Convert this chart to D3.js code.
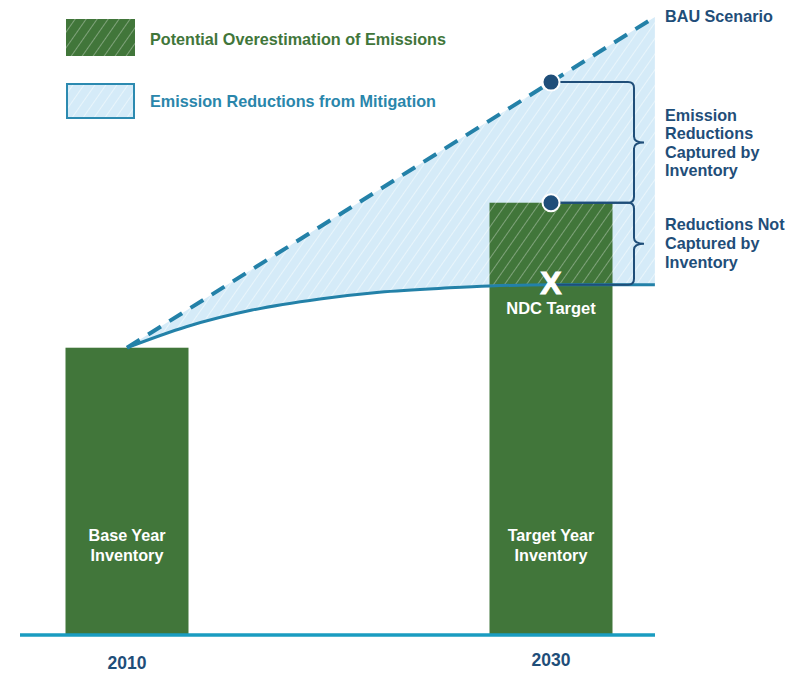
<!DOCTYPE html>
<html><head><meta charset="utf-8">
<script src="https://cdn.jsdelivr.net/npm/d3@7"></script>
<style>
html,body{margin:0;padding:0;background:#fff;}
text{font-family:"Liberation Sans",Arial,sans-serif;font-weight:bold;}
</style></head>
<body>
<svg id="chart" width="802" height="673"></svg>
<script>
// ---- data ----
const categories = ["2010", "2030"];
const categoryYears = [2010, 2030];
const inventoryValues = [46.4, 69.9];          // bar tops (base year, target year inventory)
const ndcTarget = 56.6;                          // NDC target in 2030
const bauYears = [2010, 2034.9];
const bauValues = [46.4, 100];
const ndcYears = [2010, 2012.8, 2015.9, 2019.1, 2021.9, 2025.2, 2027.1, 2030, 2034.9];
const ndcValues = [46.4, 49.8, 52.5, 54.3, 55.4, 56.1, 56.4, 56.6, 56.6];
const barLabels = [["Base Year", "Inventory"], ["Target Year", "Inventory"]];
const legendLabels = ["Potential Overestimation of Emissions", "Emission Reductions from Mitigation"];
const bauLabel = ["BAU Scenario"];
const capturedLabel = ["Emission", "Reductions", "Captured by", "Inventory"];
const notCapturedLabel = ["Reductions Not", "Captured by", "Inventory"];
const ndcLabel = "NDC Target";

// ---- styles ----
const GREEN = "#41763a", LIGHTBLUE = "#d5ebf8", TEAL = "#2381a8", AXIS = "#1a9cc0",
      NAVY = "#1f4e79", LEGBLUE = "#2a86ab";
const FS = 16.2;

const svg = d3.select("#chart");
const x = d3.scaleLinear().domain([2010, 2030]).range([127, 551]);
const y = d3.scaleLinear().domain([0, 100]).range([634, 17]);
const barW = 123;

// patterns
const defs = svg.append("defs");
function hatch(id, bg, lineColor, op) {
  const p = defs.append("pattern").attr("id", id).attr("patternUnits", "userSpaceOnUse")
    .attr("width", 9).attr("height", 9).attr("patternTransform", "rotate(35)");
  p.append("rect").attr("width", 9).attr("height", 9).attr("fill", bg);
  p.append("line").attr("x1", 0).attr("y1", 0).attr("x2", 0).attr("y2", 9)
    .attr("stroke", lineColor).attr("stroke-width", 1.2).attr("stroke-opacity", op);
}
hatch("hGreen", GREEN, "#ffffff", 0.55);
hatch("hBlue", LIGHTBLUE, "#ffffff", 0.8);

const bauScale = d3.scaleLinear().domain(bauYears).range(bauValues);

// blue area between BAU and NDC path
const areaData = ndcYears.map((yr, i) => ({yr, lo: ndcValues[i], hi: bauScale(yr)}));
svg.append("path").datum(areaData)
  .attr("d", d3.area().x(d => x(d.yr)).y0(d => y(d.lo)).y1(d => y(d.hi)).curve(d3.curveMonotoneX))
  .attr("fill", "url(#hBlue)");

// bars
const bars = svg.append("g");
bars.append("rect").attr("x", x(categoryYears[0]) - barW / 2).attr("y", y(inventoryValues[0]))
  .attr("width", barW).attr("height", y(0) - y(inventoryValues[0])).attr("fill", GREEN);
bars.append("rect").attr("x", x(categoryYears[1]) - barW / 2).attr("y", y(ndcTarget))
  .attr("width", barW).attr("height", y(0) - y(ndcTarget)).attr("fill", GREEN);
bars.append("rect").attr("x", x(categoryYears[1]) - barW / 2).attr("y", y(inventoryValues[1]))
  .attr("width", barW).attr("height", y(ndcTarget) - y(inventoryValues[1])).attr("fill", "url(#hGreen)");

// axis baseline
svg.append("line").attr("x1", 20).attr("x2", 655).attr("y1", y(0) + 1).attr("y2", y(0) + 1)
  .attr("stroke", AXIS).attr("stroke-width", 3.5);

// NDC curve
svg.append("path").datum(ndcYears.map((yr, i) => [yr, ndcValues[i]]))
  .attr("d", d3.line().x(d => x(d[0])).y(d => y(d[1])).curve(d3.curveMonotoneX))
  .attr("fill", "none").attr("stroke", TEAL).attr("stroke-width", 3);

// BAU dashed
svg.append("path").datum(bauYears.map((yr, i) => [yr, bauValues[i]]))
  .attr("d", d3.line().x(d => x(d[0])).y(d => y(d[1])))
  .attr("fill", "none").attr("stroke", TEAL).attr("stroke-width", 4)
  .attr("stroke-dasharray", "15,10");

// braces
const bx = 634, tip = 10, r = 6, lx = 556;
function brace(y0, y1) {
  const m = (y0 + y1) / 2;
  return `M${lx},${y0} H${bx - r} Q${bx},${y0} ${bx},${y0 + r} V${m - r} Q${bx},${m} ${bx + tip},${m} ` +
         `Q${bx},${m} ${bx},${m + r} V${y1 - r} Q${bx},${y1} ${bx - r},${y1} H${lx}`;
}
const yBau30 = y(bauScale(2030)), yInv30 = y(inventoryValues[1]), yNdc30 = y(ndcTarget);
svg.append("path").attr("d", brace(yBau30, yInv30)).attr("fill", "none").attr("stroke", NAVY).attr("stroke-width", 2);
svg.append("path").attr("d", brace(yInv30, yNdc30)).attr("fill", "none").attr("stroke", NAVY).attr("stroke-width", 2);

// dots
[yBau30, yInv30].forEach(cy => {
  svg.append("circle").attr("cx", x(2030)).attr("cy", cy).attr("r", 8.5)
    .attr("fill", NAVY).attr("stroke", "#fff").attr("stroke-width", 2);
});

// X mark and NDC label
svg.append("text").attr("x", x(2030)).attr("y", yNdc30 + 9).attr("text-anchor", "middle")
  .attr("fill", "#fff").attr("font-size", 32).attr("font-family", "Arial, 'Liberation Sans', sans-serif")
  .attr("stroke", "#fff").attr("stroke-width", 1).text("X");
svg.append("text").attr("x", x(2030)).attr("y", yNdc30 + 29).attr("text-anchor", "middle")
  .attr("fill", "#fff").attr("font-size", 16.5).text(ndcLabel);

// bar labels
barLabels.forEach((lines, i) => {
  lines.forEach((t, j) => {
    svg.append("text").attr("x", x(categoryYears[i])).attr("y", 541 + j * 20).attr("text-anchor", "middle")
      .attr("fill", "#fff").attr("font-size", 16.2).text(t);
  });
});

// category labels
categories.forEach((c, i) => {
  svg.append("text").attr("x", x(categoryYears[i])).attr("y", i === 0 ? 669 : 666).attr("text-anchor", "middle")
    .attr("fill", NAVY).attr("font-size", 17.5).text(c);
});

// right-side labels
function block(lines, y0, step) {
  lines.forEach((t, j) => svg.append("text").attr("x", 665).attr("y", y0 + j * step)
    .attr("fill", NAVY).attr("font-size", FS).text(t));
}
block(bauLabel, 22, 0);
block(capturedLabel, 120.5, 18.5);
block(notCapturedLabel, 229.5, 19);

// legend
svg.append("rect").attr("x", 66).attr("y", 19).attr("width", 69).attr("height", 37).attr("fill", "url(#hGreen)");
svg.append("rect").attr("x", 67).attr("y", 84).attr("width", 67).attr("height", 34)
  .attr("fill", "url(#hBlue)").attr("stroke", "#2c8ab0").attr("stroke-width", 2);
svg.append("text").attr("x", 150).attr("y", 44.5).attr("fill", GREEN).attr("font-size", FS).text(legendLabels[0]);
svg.append("text").attr("x", 150).attr("y", 106.5).attr("fill", LEGBLUE).attr("font-size", FS).text(legendLabels[1]);
</script>
</body></html>
